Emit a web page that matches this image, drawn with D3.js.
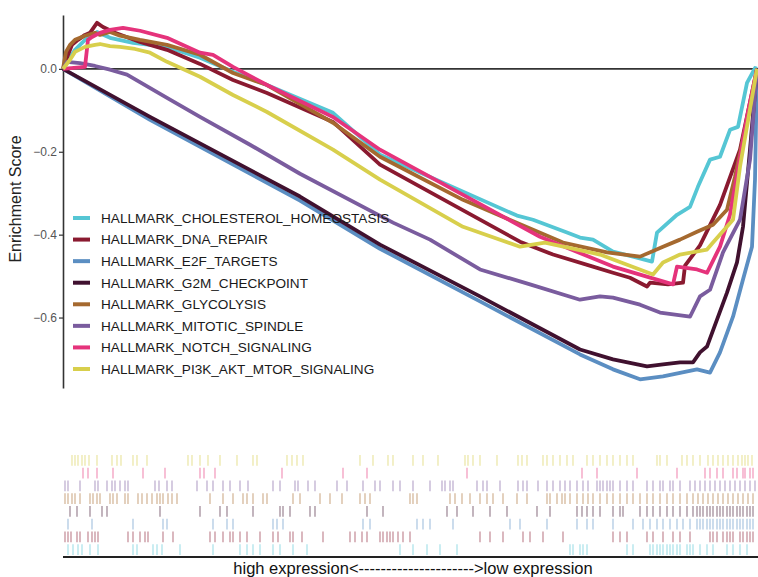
<!DOCTYPE html>
<html>
<head>
<meta charset="utf-8">
<script src="https://cdn.jsdelivr.net/npm/d3@7"></script>
<style>
  body { margin: 0; background: #fff; }
  svg { display: block; font-family: "Liberation Sans", Arial, sans-serif; }
</style>
</head>
<body>
<svg id="chart" width="758" height="577"></svg>
<script>
"use strict"

// gene sets, in legend order
const setNames = [
    "HALLMARK_CHOLESTEROL_HOMEOSTASIS",
    "HALLMARK_DNA_REPAIR",
    "HALLMARK_E2F_TARGETS",
    "HALLMARK_G2M_CHECKPOINT",
    "HALLMARK_GLYCOLYSIS",
    "HALLMARK_MITOTIC_SPINDLE",
    "HALLMARK_NOTCH_SIGNALING",
    "HALLMARK_PI3K_AKT_MTOR_SIGNALING"
]
const setColors = ["#55c6d4", "#8a1a30", "#5b8ec2", "#40112f", "#a5692f", "#7a5c9e", "#e5337b", "#d8cf4c"]

const nGenes = 6940
const yTicks = [0, -0.2, -0.4, -0.6]

// running enrichment score, [rank, ES]
const cholesterolES = [[0,0],[120,0.046],[220,0.07],[340,0.089],[470,0.075],[700,0.063],[1040,0.053],[1370,0.027],[1700,-0.007],[2040,-0.039],[2700,-0.106],[3170,-0.207],[4540,-0.354],[4700,-0.364],[5040,-0.395],[5170,-0.407],[5300,-0.412],[5500,-0.441],[5700,-0.453],[5890,-0.465],[5940,-0.395],[6140,-0.352],[6270,-0.333],[6350,-0.284],[6470,-0.219],[6570,-0.212],[6670,-0.147],[6750,-0.14],[6840,-0.034],[6920,0.002],[6940,0]]
const dnaRepairES = [[0,0],[50,0.034],[90,0.058],[150,0.07],[220,0.082],[270,0.087],[340,0.111],[400,0.101],[520,0.087],[770,0.065],[1040,0.046],[1370,0.012],[1700,-0.027],[2040,-0.058],[2700,-0.128],[3170,-0.231],[4570,-0.417],[4900,-0.448],[5300,-0.477],[5500,-0.492],[5670,-0.504],[5840,-0.525],[5870,-0.516],[6050,-0.52],[6200,-0.516],[6220,-0.475],[6370,-0.426],[6570,-0.328],[6770,-0.195],[6940,0]]
const e2fES = [[0,0],[870,-0.123],[2370,-0.318],[3170,-0.434],[4170,-0.561],[5170,-0.689],[5500,-0.725],[5770,-0.749],[6000,-0.742],[6340,-0.725],[6470,-0.733],[6570,-0.684],[6700,-0.598],[6800,-0.508],[6890,-0.429],[6920,-0.267],[6940,0]]
const g2mES = [[0,0],[870,-0.116],[2370,-0.308],[3170,-0.424],[4170,-0.549],[5170,-0.677],[5500,-0.701],[5840,-0.718],[6000,-0.713],[6170,-0.708],[6300,-0.708],[6370,-0.684],[6440,-0.67],[6540,-0.605],[6640,-0.54],[6740,-0.467],[6800,-0.381],[6870,-0.195],[6940,0]]
const glycolysisES = [[0,0],[30,0.041],[70,0.058],[120,0.07],[170,0.075],[220,0.08],[320,0.087],[370,0.082],[470,0.089],[570,0.08],[770,0.07],[1040,0.058],[1370,0.034],[1700,-0.01],[2040,-0.039],[2700,-0.13],[3170,-0.212],[4000,-0.316],[5000,-0.419],[5440,-0.443],[5770,-0.453],[6000,-0.429],[6170,-0.412],[6340,-0.393],[6500,-0.376],[6640,-0.34],[6720,-0.26],[6820,-0.147],[6890,-0.075],[6940,0]]
const mitoticES = [[0,0],[40,0.017],[170,0.014],[320,0.007],[470,-0.002],[640,-0.014],[1040,-0.07],[1370,-0.116],[1870,-0.183],[2370,-0.253],[3300,-0.371],[3670,-0.412],[4170,-0.484],[4670,-0.52],[5170,-0.557],[5370,-0.549],[5500,-0.552],[5770,-0.569],[5970,-0.588],[6270,-0.598],[6370,-0.549],[6470,-0.533],[6600,-0.443],[6770,-0.364],[6870,-0.219],[6940,0]]
const notchES = [[0,0],[220,0.005],[250,0.07],[290,0.077],[370,0.087],[470,0.094],[600,0.099],[770,0.092],[1040,0.075],[1370,0.039],[1500,0.034],[1700,0.005],[2040,-0.039],[2700,-0.116],[3170,-0.195],[4770,-0.405],[5500,-0.477],[6100,-0.52],[6140,-0.477],[6340,-0.484],[6440,-0.492],[6570,-0.429],[6670,-0.352],[6840,-0.116],[6940,0]]
const pi3kES = [[0,0],[70,0.022],[120,0.041],[220,0.053],[320,0.058],[370,0.06],[470,0.055],[570,0.053],[720,0.048],[870,0.039],[1040,0.017],[1370,-0.019],[1700,-0.063],[2040,-0.104],[2700,-0.195],[3170,-0.267],[4000,-0.381],[4570,-0.429],[4820,-0.419],[5370,-0.448],[5900,-0.496],[6000,-0.467],[6170,-0.448],[6440,-0.436],[6500,-0.419],[6700,-0.364],[6770,-0.236],[6940,0]]

// hit positions (ranks) for the rug under the plot
const cholesterolHits = [50,100,150,190,270,350,700,740,900,940,990,1170,1500,1770,1840,1900,1970,2100,2170,2300,2440,3370,3500,3640,3770,3940,5070,5100,5170,5200,5240,5640,5700,5870,5900,5940,5970,6000,6040,6070,6100,6140,6170,6240,6270,6300,6370,6440,6500,6640,6700,6770,6840]
const dnaRepairHits = [20,50,80,140,170,250,290,320,350,650,700,770,820,850,1000,1100,1470,1520,1600,1670,1700,1770,1840,1970,2100,2150,2270,2300,2390,2600,2870,2920,2990,3040,3170,3200,3240,3270,3300,3350,3400,3470,4170,4270,4400,4600,4670,4800,5000,5500,5570,5640,5840,5900,6000,6100,6170,6270,6470,6500,6540,6600,6640,6670,6700,6770,6800,6840,6870,6900]
const e2fHits = [50,290,700,1000,1040,1500,1640,1700,2100,2140,2200,3000,3070,3540,3600,3670,3900,4470,4570,4840,5140,5240,5300,5500,5700,5800,5870,5940,6000,6070,6140,6200,6270,6340,6370,6400,6440,6470,6500,6540,6570,6600,6640,6670,6700,6740,6770,6800,6840,6870,6900]
const g2mHits = [70,140,270,390,440,970,1370,1570,1640,1900,2170,2200,2270,2470,2520,3040,3200,3840,3940,4100,4270,4440,4740,4870,5140,5190,5240,5300,5370,5500,5570,5600,5770,5840,5900,5970,6040,6100,6170,6240,6300,6340,6370,6400,6440,6470,6500,6540,6570,6600,6640,6670,6700,6740,6770,6800,6840,6870,6900]
const glycolysisHits = [20,50,90,120,170,270,300,340,370,470,500,540,620,650,750,790,840,890,940,970,1000,1050,1090,1140,1470,1600,1700,1800,1840,1900,2000,2040,2300,2370,2570,2670,2790,2970,3020,3070,3470,3500,3540,3870,3920,3990,4070,4170,4240,4300,4400,4540,4640,4840,4870,4940,4990,5020,5070,5140,5200,5250,5300,5370,5440,5500,5570,5640,5700,5770,5840,5900,5970,6040,6100,6170,6240,6300,6350,6400,6450,6500,6550,6600,6650,6700,6750,6800,6850,6900]
const mitoticHits = [20,50,170,320,350,440,490,520,570,620,650,920,960,1040,1090,1340,1440,1500,1600,1670,1770,1850,2100,2170,2320,2350,2450,2520,2740,2840,3000,3120,3170,3300,3370,3500,3670,3790,3820,3870,3900,4140,4200,4240,4370,4550,4600,4640,4750,4840,4900,4970,5020,5070,5140,5200,5250,5340,5370,5400,5440,5470,5500,5570,5640,5700,5840,5900,5970,6000,6070,6100,6170,6270,6320,6370,6420,6470,6520,6570,6620,6670,6720,6770,6820,6870,6920]
const notchHits = [200,250,340,500,800,1020,1370,1410,1520,2190,2800,3040,4040,5190,5340,5740,6140,6420,6470,6540,6600,6700,6740,6800,6820,6870,6900]
const pi3kHits = [90,120,150,190,220,260,340,490,540,580,700,740,840,1250,1290,1370,1450,1570,1740,1900,1940,2240,2290,2340,2400,2970,3100,3250,3300,3500,3600,3750,4020,4050,4100,4170,4340,4550,4590,4640,4800,4840,4900,4970,5040,5100,5240,5300,5370,5440,5500,5570,5640,5700,5940,5970,6040,6190,6240,6300,6370,6450,6500,6550,6600,6650,6700,6750,6790,6820,6850,6890]

const esData = [cholesterolES, dnaRepairES, e2fES, g2mES, glycolysisES, mitoticES, notchES, pi3kES]
const hitData = [cholesterolHits, dnaRepairHits, e2fHits, g2mHits, glycolysisHits, mitoticHits, notchHits, pi3kHits]

const svg = d3.select("#chart")

const x = d3.scaleLinear().domain([0, nGenes]).range([63, 757])
const y = d3.scaleLinear().domain([-0.77, 0.13]).range([388, 15])

// zero line
svg.append("line")
    .attr("x1", x(0)).attr("x2", 758)
    .attr("y1", y(0)).attr("y2", y(0))
    .attr("stroke", "#333").attr("stroke-width", 1.6)

// y axis
const yAxis = svg.append("g")
    .attr("transform", "translate(" + x(0) + ",0)")
    .call(d3.axisLeft(y).tickValues(yTicks).tickFormat(d3.format(".1f")).tickSize(4).tickSizeOuter(0))
yAxis.select(".domain").attr("stroke", "#333").attr("stroke-width", 1.6)
yAxis.selectAll(".tick line").attr("stroke", "#333").attr("stroke-width", 1.2)
yAxis.selectAll(".tick text")
    .attr("fill", "#555")
    .style("font-size", "12px")
    .style("font-family", "'Liberation Sans', Arial, sans-serif")
    .attr("x", -6)

svg.append("text")
    .attr("transform", "translate(21,199) rotate(-90)")
    .attr("text-anchor", "middle")
    .attr("fill", "#222")
    .style("font-size", "16px")
    .text("Enrichment Score")

// curves
const line = d3.line()
    .x(d => x(d[0]))
    .y(d => y(d[1]))

svg.append("g").selectAll("path")
    .data(esData)
    .enter().append("path")
        .attr("d", line)
        .attr("fill", "none")
        .attr("stroke", (d, i) => setColors[i])
        .attr("stroke-width", 3.8)
        .attr("stroke-linejoin", "round")

// legend
const legend = svg.append("g")
const legendY = d3.scalePoint().domain(setNames).range([218, 369])
legend.selectAll("line")
    .data(setNames)
    .enter().append("line")
        .attr("x1", 73).attr("x2", 90)
        .attr("y1", d => legendY(d)).attr("y2", d => legendY(d))
        .attr("stroke", (d, i) => setColors[i])
        .attr("stroke-width", 4)
legend.selectAll("text")
    .data(setNames)
    .enter().append("text")
        .attr("x", 101)
        .attr("y", d => legendY(d))
        .attr("dy", "0.36em")
        .attr("fill", "#1a1a1a")
        .style("font-size", "13.6px")
        .text(d => d)

// rug of hits, top row is the last gene set
const rowY = d3.scaleBand().domain(setNames.slice().reverse()).range([454, 556])
const rug = svg.append("g")
hitData.forEach(function(hits, i) {
    rug.append("g").selectAll("line")
        .data(hits)
        .enter().append("line")
            .attr("x1", d => x(d)).attr("x2", d => x(d))
            .attr("y1", rowY(setNames[i]) + 1)
            .attr("y2", rowY(setNames[i]) + rowY.bandwidth() - 1)
            .attr("stroke", setColors[i])
            .attr("stroke-opacity", 0.35)
            .attr("stroke-width", 1.8)
})

svg.append("line")
    .attr("x1", x(0)).attr("x2", 758)
    .attr("y1", 557).attr("y2", 557)
    .attr("stroke", "#222").attr("stroke-width", 2)

svg.append("text")
    .attr("x", 413).attr("y", 574)
    .attr("text-anchor", "middle")
    .attr("fill", "#111")
    .style("font-size", "16.5px")
    .text("high expression<--------------------->low expression")
</script>
</body>
</html>
